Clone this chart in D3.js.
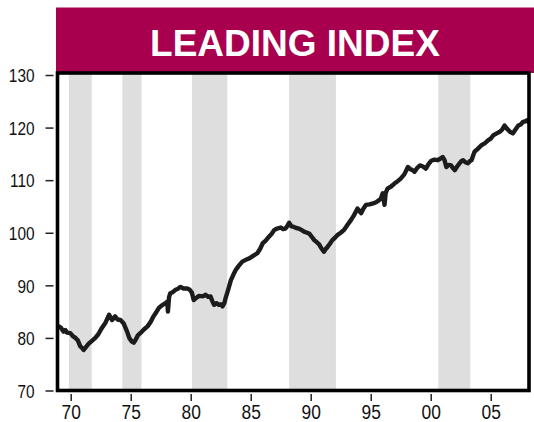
<!DOCTYPE html>
<html>
<head>
<meta charset="utf-8">
<script src="https://cdn.jsdelivr.net/npm/d3@7"></script>
<style>
  html, body { margin: 0; padding: 0; background: #fff; overflow: hidden; }
  svg { display: block; font-family: "Liberation Sans", Arial, sans-serif; }
</style>
</head>
<body>
<div id="chart"></div>
<script>
// leading index (decimal year, index value)
var years = [1969.0, 1969.2, 1969.4, 1969.55, 1969.7, 1969.97, 1970.2, 1970.4, 1970.6, 1970.8, 1970.95, 1971.08, 1971.25, 1971.5, 1971.7,
	1972.05, 1972.3, 1972.6, 1972.9, 1973.2, 1973.35, 1973.45, 1973.7, 1973.9, 1974.15, 1974.4, 1974.55, 1974.7, 1974.9, 1975.1, 1975.25,
	1975.4, 1975.6, 1975.8, 1976.1, 1976.4, 1976.65, 1976.9, 1977.1, 1977.35, 1977.6, 1977.9, 1978.05, 1978.1, 1978.2, 1978.3, 1978.5,
	1978.7, 1978.9, 1979.15, 1979.4, 1979.7, 1979.9, 1980.1, 1980.25, 1980.45, 1980.7, 1981.0, 1981.25, 1981.45, 1981.65, 1981.8, 1981.95,
	1982.15, 1982.35, 1982.5, 1982.65, 1982.8, 1982.9, 1983.1, 1983.35, 1983.55, 1983.75, 1984.0, 1984.3, 1984.55, 1984.85, 1985.2, 1985.55,
	1985.8, 1986.0, 1986.25, 1986.5, 1986.75, 1986.95, 1987.2, 1987.5, 1987.7, 1987.9, 1988.05, 1988.2, 1988.4, 1988.6, 1988.8, 1989.0,
	1989.25, 1989.45, 1989.7, 1989.9, 1990.1, 1990.3, 1990.5, 1990.7, 1990.9, 1991.1, 1991.25, 1991.4, 1991.6, 1991.8, 1992.0, 1992.25,
	1992.5, 1992.8, 1993.1, 1993.35, 1993.6, 1993.9, 1994.05, 1994.2, 1994.4, 1994.6, 1994.9, 1995.2, 1995.45, 1995.7, 1995.85, 1996.0,
	1996.15, 1996.25, 1996.4, 1996.7, 1997.0, 1997.25, 1997.5, 1997.8, 1998.1, 1998.3, 1998.5, 1998.65, 1998.9, 1999.1, 1999.35, 1999.6,
	1999.8, 2000.05, 2000.3, 2000.6, 2000.8, 2001.0, 2001.15, 2001.3, 2001.5, 2001.7, 2001.85, 2002.0, 2002.2, 2002.4, 2002.55, 2002.7,
	2002.9, 2003.1, 2003.25, 2003.4, 2003.55, 2003.65, 2003.9, 2004.2, 2004.5, 2004.8, 2005.0, 2005.2, 2005.5, 2005.75, 2005.95, 2006.15,
	2006.35, 2006.6, 2006.85, 2007.05, 2007.3, 2007.5, 2007.7, 2007.9, 2008.05, 2008.2];
var values = [82.2, 81.9, 81.2, 81.5, 81.0, 80.9, 80.3, 80.0, 79.5, 78.4, 78.1, 77.7, 78.2, 78.9, 79.3,
	80.0, 80.7, 81.9, 82.9, 84.4, 83.8, 83.4, 84.1, 83.5, 83.4, 82.8, 82.0, 81.2, 79.9, 79.3, 79.1,
	79.6, 80.5, 80.9, 81.6, 82.2, 83.0, 84.1, 84.8, 85.7, 86.2, 86.6, 86.9, 85.0, 87.8, 88.5, 88.7,
	89.1, 89.3, 89.7, 89.4, 89.4, 89.2, 88.6, 87.2, 87.6, 88.0, 87.9, 88.2, 87.8, 87.9, 87.0, 86.3,
	86.6, 86.3, 86.4, 86.0, 86.6, 87.5, 89.0, 91.0, 92.0, 92.9, 93.7, 94.5, 94.8, 95.1, 95.6, 96.1,
	97.0, 98.0, 98.5, 99.2, 99.8, 100.5, 100.8, 101.0, 100.7, 100.8, 101.3, 101.9, 101.2, 101.1, 100.9, 100.8,
	100.5, 100.2, 100.0, 99.8, 99.2, 98.6, 98.2, 97.8, 97.0, 96.4, 96.9, 97.3, 97.9, 98.6, 99.0, 99.6,
	100.0, 100.6, 101.6, 102.4, 103.3, 104.6, 104.2, 103.7, 104.6, 105.3, 105.4, 105.6, 105.8, 106.2, 106.5, 107.5,
	105.3, 107.6, 108.4, 108.8, 109.4, 109.8, 110.3, 111.1, 112.5, 112.1, 111.9, 111.6, 112.4, 112.8, 112.6, 112.2,
	113.0, 113.7, 113.9, 113.8, 114.1, 114.4, 113.8, 112.5, 112.9, 112.8, 112.3, 111.9, 112.6, 113.2, 113.6, 113.8,
	113.4, 113.2, 113.6, 113.8, 114.8, 115.4, 115.9, 116.6, 117.0, 117.6, 117.9, 118.5, 118.9, 119.2, 119.6, 120.4,
	119.8, 119.2, 118.9, 119.6, 120.4, 120.6, 121.1, 121.2, 121.4, 121.0];

// shaded periods (start, end)
var shadeStart = [1969.85, 1974.3, 1980.1, 1988.2, 2000.63];
var shadeEnd = [1971.75, 1975.9, 1983.05, 1992.1, 2003.3];

var yTicks = [70, 80, 90, 100, 110, 120, 130];
var xTicks = [1970, 1975, 1980, 1985, 1990, 1995, 2000, 2005];
var xTickLabels = ["70", "75", "80", "85", "90", "95", "00", "05"];
var title = "LEADING INDEX";

var width = 534, height = 422;
var plotLeft = 57.5, plotRight = 529, plotTop = 73, plotBottom = 390.5;

var svg = d3.select("#chart").append("svg")
	.attr("width", width)
	.attr("height", height);

var x = d3.scaleLinear().domain([1968.9, 2008.19]).range([plotLeft, plotRight]);
var y = d3.scaleLinear().domain([70, 130]).range([390.5, 75]);

// title banner
svg.append("rect")
	.attr("x", 56).attr("y", 7.5)
	.attr("width", width - 56).attr("height", plotTop - 7.5)
	.attr("fill", "#a8004f");
svg.append("text")
	.attr("x", 295).attr("y", 56)
	.attr("text-anchor", "middle")
	.attr("fill", "#fff")
	.attr("font-size", 37)
	.attr("font-weight", "bold")
	.text(title);

svg.append("clipPath").attr("id", "plot")
	.append("rect")
	.attr("x", plotLeft).attr("y", plotTop)
	.attr("width", plotRight - plotLeft).attr("height", plotBottom - plotTop);

var plot = svg.append("g").attr("clip-path", "url(#plot)");

plot.selectAll("rect.shade")
	.data(shadeStart)
	.enter()
	.append("rect")
	.attr("class", "shade")
	.attr("x", function(d){ return x(d); })
	.attr("y", plotTop)
	.attr("width", function(d, i){ return x(shadeEnd[i]) - x(d); })
	.attr("height", plotBottom - plotTop)
	.attr("fill", "#dedede");

var line = d3.line()
	.x(function(d, i){ return x(years[i]); })
	.y(function(d){ return y(d); });

plot.append("path")
	.datum(values)
	.attr("d", line)
	.attr("fill", "none")
	.attr("stroke", "#1c1c1c")
	.attr("stroke-width", 4.4)
	.attr("stroke-linejoin", "round")
	.attr("stroke-linecap", "round");

// frame
svg.append("rect")
	.attr("x", plotLeft).attr("y", plotTop)
	.attr("width", plotRight - plotLeft).attr("height", plotBottom - plotTop)
	.attr("fill", "none")
	.attr("stroke", "#000")
	.attr("stroke-width", 3.6);

// y axis
var yAxis = svg.append("g")
	.attr("transform", "translate(53.5,0)")
	.call(d3.axisLeft(y).tickValues(yTicks).tickSize(8).tickPadding(11));
yAxis.select(".domain").remove();
yAxis.selectAll("line").attr("stroke", "#222").attr("stroke-width", 1.5);
yAxis.selectAll("text")
	.attr("dy", null)
	.attr("y", 5.9)
	.attr("transform", "scale(1,1.14)")
	.attr("font-size", 15.4)
	.attr("font-family", "'Liberation Sans', Arial, sans-serif")
	.attr("fill", "#111");

// x axis
var xAxis = svg.append("g")
	.attr("transform", "translate(0,394)")
	.call(d3.axisBottom(x).tickValues(xTicks).tickSize(7)
		.tickFormat(function(d, i){ return xTickLabels[i]; }));
xAxis.select(".domain").remove();
xAxis.selectAll("line").attr("stroke", "#222").attr("stroke-width", 1.5);
xAxis.selectAll("text")
	.attr("dy", null)
	.attr("y", 21.6)
	.attr("transform", "scale(1,1.15)")
	.attr("font-size", 17.4)
	.attr("font-family", "'Liberation Sans', Arial, sans-serif")
	.attr("fill", "#111");
</script>
</body>
</html>
